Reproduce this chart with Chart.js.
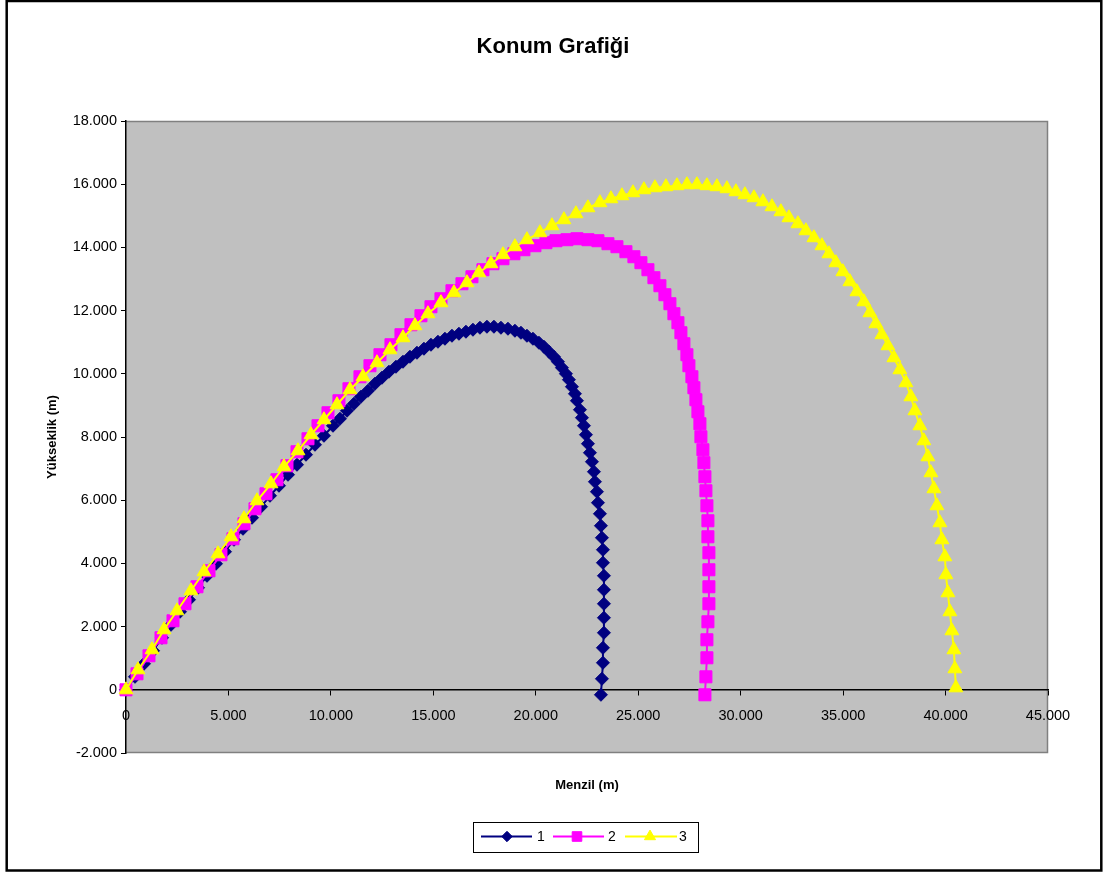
<!DOCTYPE html>
<html>
<head>
<meta charset="utf-8">
<script src="https://cdn.jsdelivr.net/npm/chart.js@4.4.1/dist/chart.umd.min.js"></script>
<style>
  html, body { margin: 0; padding: 0; background: #ffffff; }
  canvas { display: block; }
</style>
</head>
<body>
<canvas id="chart" width="1103" height="874"></canvas>
<script>
// Texts
const chartTitle = 'Konum Grafiği';
const xAxisTitle = 'Menzil (m)';
const yAxisTitle = 'Yükseklik (m)';
const seriesNames = ['1', '2', '3'];

// Axis ticks (m)
const xTickValues = [0, 5000, 10000, 15000, 20000, 25000, 30000, 35000, 40000, 45000];
const yTickValues = [-2000, 0, 2000, 4000, 6000, 8000, 10000, 12000, 14000, 16000, 18000];

// Trajectory 1: range (m) and height (m)
const s1X = [0,439,878,1318,1757,2196,2635,3074,3514,3953,
  4392,4831,5270,5710,6149,6588,7027,7466,7906,8345,
  8784,9223,9662,10102,10443,10785,11126,11468,11810,12151,
  12493,12834,13176,13518,13859,14201,14542,14884,15226,15567,
  15909,16250,16592,16934,17275,17617,17958,18300,18642,18983,
  19276,19569,19862,20154,20398,20642,20886,21082,21277,21472,
  21618,21765,21911,22009,22155,22253,22350,22448,22546,22643,
  22741,22838,22887,22985,23034,23131,23180,23229,23278,23278,
  23326,23326,23326,23326,23326,23278,23278,23229,23180];
const s1Y = [0,411,823,1234,1646,2057,2469,2849,3228,3608,
  3988,4368,4748,5096,5444,5792,6140,6457,6805,7121,
  7438,7754,8039,8356,8577,8830,9052,9273,9463,9685,
  9875,10065,10223,10381,10539,10666,10793,10919,11014,11109,
  11204,11267,11331,11394,11457,11489,11489,11457,11426,11362,
  11299,11204,11109,10983,10856,10698,10539,10381,10191,10001,
  9812,9590,9368,9147,8862,8609,8356,8071,7786,7501,
  7216,6900,6583,6267,5919,5570,5191,4811,4431,4020,
  3608,3165,2722,2279,1804,1329,855,348,-158];

// Trajectory 2
const s2X = [0,537,1122,1708,2294,2879,3465,4050,4636,5222,
  5758,6295,6832,7369,7857,8345,8882,9370,9858,10394,
  10882,11419,11907,12395,12932,13420,13908,14396,14884,15372,
  15909,16397,16885,17422,17910,18398,18934,19422,19959,20496,
  20984,21521,22009,22546,23034,23522,23961,24400,24790,25132,
  25474,25766,26059,26303,26547,26742,26938,27084,27230,27377,
  27474,27621,27718,27816,27914,28011,28060,28158,28206,28255,
  28304,28353,28402,28402,28450,28450,28450,28450,28402,28353,
  28353,28304,28255];
const s2Y = [0,506,1076,1646,2184,2722,3260,3766,4273,4779,
  5254,5729,6203,6647,7090,7533,7944,8356,8767,9147,
  9527,9906,10255,10603,10919,11236,11552,11837,12122,12375,
  12628,12850,13071,13293,13483,13641,13799,13926,14053,14148,
  14211,14243,14274,14243,14211,14116,14021,13863,13704,13515,
  13293,13040,12787,12502,12217,11900,11616,11299,10951,10603,
  10255,9906,9558,9179,8799,8419,8007,7596,7185,6741,
  6298,5824,5349,4842,4336,3798,3260,2722,2152,1583,
  1013,411,-158];

// Trajectory 3
const s3X = [0,586,1269,1854,2489,3172,3806,4490,5124,5758,
  6393,7076,7710,8394,9028,9662,10297,10931,11566,12249,
  12883,13518,14103,14738,15372,16006,16641,17226,17812,18398,
  18983,19569,20203,20789,21374,21960,22546,23131,23668,24205,
  24742,25278,25815,26352,26889,27377,27865,28353,28841,29329,
  29768,30207,30646,31086,31525,31964,32354,32794,33184,33574,
  33965,34306,34648,34990,35331,35673,36014,36307,36600,36893,
  37186,37478,37771,38064,38308,38503,38747,38942,39138,39284,
  39430,39577,39723,39821,39967,40016,40114,40211,40309,40406,
  40455,40504];
const s3Y = [0,633,1266,1899,2500,3133,3735,4304,4842,5412,
  5982,6520,7058,7564,8071,8546,9020,9495,9906,10350,
  10761,11141,11521,11900,12249,12565,12882,13198,13483,13768,
  14021,14243,14464,14686,14876,15065,15255,15414,15540,15635,
  15730,15825,15888,15920,15952,15983,15983,15952,15920,15857,
  15762,15667,15572,15445,15287,15129,14939,14749,14527,14306,
  14053,13799,13515,13230,12913,12597,12280,11932,11584,11236,
  10888,10508,10128,9717,9273,8830,8356,7881,7374,6868,
  6362,5824,5286,4748,4209,3640,3070,2469,1867,1266,
  665,63];

const FONT = "'Liberation Sans', Arial, Helvetica, sans-serif";
const colors = ['#000080', '#FF00FF', '#FFFF00'];
const markers = [
  { style: 'rectRot', radius: 6.5 },
  { style: 'rect', radius: 8.5 },
  { style: 'triangle', radius: 8 }
];

function toPoints(xs, ys) {
  return xs.map((x, i) => ({ x: x, y: ys[i] }));
}

// Dotted thousands separator, e.g. 18.000
function fmt(v) {
  if (v === 0) return '0';
  const s = Math.abs(v).toString().replace(/\B(?=(\d{3})+(?!\d))/g, '.');
  return (v < 0 ? '-' : '') + s;
}

function makeDataset(i, xs, ys, order) {
  return {
    label: seriesNames[i],
    data: toPoints(xs, ys),
    showLine: true,
    borderColor: colors[i],
    backgroundColor: colors[i],
    borderWidth: 2,
    pointStyle: markers[i].style,
    pointRadius: markers[i].radius,
    pointBorderWidth: 1,
    pointBorderColor: colors[i],
    pointBackgroundColor: colors[i],
    tension: 0,
    clip: false,
    order: order
  };
}

function drawMarker(ctx, style, x, y, r, color) {
  ctx.save();
  ctx.fillStyle = color;
  ctx.strokeStyle = color;
  ctx.lineWidth = 1;
  ctx.beginPath();
  if (style === 'rectRot') {
    ctx.moveTo(x - r, y); ctx.lineTo(x, y - r); ctx.lineTo(x + r, y); ctx.lineTo(x, y + r);
  } else if (style === 'rect') {
    const h = Math.SQRT1_2 * r;
    ctx.rect(x - h, y - h, 2 * h, 2 * h);
  } else {
    const h = r * Math.sqrt(3) / 2;
    ctx.moveTo(x, y - r); ctx.lineTo(x + h, y + r / 2); ctx.lineTo(x - h, y + r / 2);
  }
  ctx.closePath();
  ctx.fill();
  ctx.stroke();
  ctx.restore();
}

const frame = {
  id: 'frame',
  beforeDraw(chart) {
    const ctx = chart.ctx;
    const a = chart.chartArea;
    ctx.save();
    ctx.fillStyle = '#ffffff';
    ctx.fillRect(0, 0, chart.width, chart.height);
    ctx.fillStyle = '#C0C0C0';
    ctx.fillRect(a.left, a.top, a.right - a.left, a.bottom - a.top);
    ctx.strokeStyle = '#808080';
    ctx.lineWidth = 1.5;
    ctx.beginPath();
    ctx.moveTo(a.left, a.top + 0.5);
    ctx.lineTo(a.right - 0.5, a.top + 0.5);
    ctx.lineTo(a.right - 0.5, a.bottom - 0.5);
    ctx.lineTo(a.left, a.bottom - 0.5);
    ctx.stroke();
    ctx.restore();
  },
  afterDraw(chart) {
    const ctx = chart.ctx;
    const a = chart.chartArea;
    ctx.save();
    // outer border
    ctx.strokeStyle = '#000000';
    ctx.lineWidth = 2.5;
    ctx.strokeRect(6.7, 1, 1094.6, 869.5);

    // title
    ctx.fillStyle = '#000000';
    ctx.textAlign = 'center';
    ctx.textBaseline = 'middle';
    ctx.font = 'bold 22px ' + FONT;
    ctx.fillText(chartTitle, 553, 47);

    // axis titles
    ctx.font = 'bold 13px ' + FONT;
    ctx.fillText(xAxisTitle, (a.left + a.right) / 2, 785);
    ctx.save();
    ctx.translate(52, (a.top + a.bottom) / 2);
    ctx.rotate(-Math.PI / 2);
    ctx.fillText(yAxisTitle, 0, 0);
    ctx.restore();

    // legend
    ctx.strokeStyle = '#000000';
    ctx.lineWidth = 1;
    ctx.strokeRect(473.5, 822.5, 225, 30);
    const ly = 836.5;
    const entries = [
      { x0: 481, x1: 532, mx: 507, tx: 537 },
      { x0: 553, x1: 604, mx: 577, tx: 608 },
      { x0: 625, x1: 677, mx: 650, tx: 679 }
    ];
    ctx.font = '14px ' + FONT;
    ctx.textAlign = 'left';
    ctx.textBaseline = 'middle';
    entries.forEach((e, i) => {
      ctx.strokeStyle = colors[i];
      ctx.lineWidth = 2;
      ctx.beginPath();
      ctx.moveTo(e.x0, ly);
      ctx.lineTo(e.x1, ly);
      ctx.stroke();
      drawMarker(ctx, markers[i].style, e.mx, ly, markers[i].radius * 0.8, colors[i]);
      ctx.fillStyle = '#000000';
      ctx.fillText(seriesNames[i], e.tx, ly + 1);
    });
    ctx.restore();
  }
};

new Chart(document.getElementById('chart'), {
  type: 'scatter',
  data: {
    datasets: [
      makeDataset(0, s1X, s1Y, 3),
      makeDataset(1, s2X, s2Y, 2),
      makeDataset(2, s3X, s3Y, 1)
    ]
  },
  options: {
    responsive: false,
    animation: false,
    devicePixelRatio: 1,
    layout: { padding: { left: 0, top: 121, right: 55, bottom: 121 } },
    plugins: {
      legend: { display: false },
      tooltip: { enabled: false },
      title: { display: false }
    },
    scales: {
      x: {
        type: 'linear',
        position: { y: 0 },
        min: 0,
        max: 45000,
        afterBuildTicks: s => { s.ticks = xTickValues.map(v => ({ value: v })); },
        grid: { display: true, drawOnChartArea: false, drawTicks: true, tickLength: 5, color: '#000000', lineWidth: 1 },
        border: { display: true, color: '#000000', width: 1.5 },
        ticks: {
          autoSkip: false, maxRotation: 0, minRotation: 0, padding: 12,
          color: '#000000',
          font: { family: FONT, size: 14.5 },
          callback: v => fmt(v)
        }
      },
      y: {
        type: 'linear',
        position: 'left',
        min: -2000,
        max: 18000,
        afterFit: s => { s.width = 126; },
        afterBuildTicks: s => { s.ticks = yTickValues.map(v => ({ value: v })); },
        grid: { display: true, drawOnChartArea: false, drawTicks: true, tickLength: 5, color: '#000000', lineWidth: 1 },
        border: { display: true, color: '#000000', width: 1.5 },
        ticks: {
          padding: 4,
          color: '#000000',
          font: { family: FONT, size: 14.5 },
          callback: v => fmt(v)
        }
      }
    }
  },
  plugins: [frame]
});
</script>
</body>
</html>
